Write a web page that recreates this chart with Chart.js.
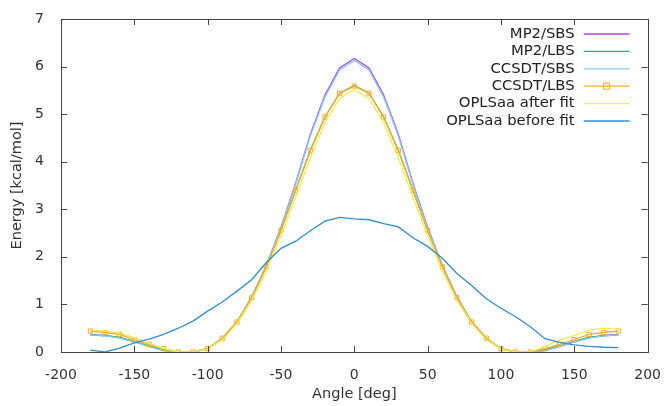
<!DOCTYPE html>
<html>
<head>
<meta charset="utf-8">
<script src="https://cdn.jsdelivr.net/npm/chart.js@4/dist/chart.umd.min.js"></script>
<style>html,body{margin:0;padding:0;background:#fff}</style>
</head>
<body>
<canvas id="c" width="668" height="406"></canvas>
<script>
const angles = [-180,-170,-160,-150,-140,-130,-120,-110,-100,-90,-80,-70,-60,-50,-40,-30,-20,-10,0,
  10,20,30,40,50,60,70,80,90,100,110,120,130,140,150,160,170,180];

const mp2Sbs = [0.37,0.35,0.30,0.22,0.12,0.03,0.00,0.00,0.07,0.28,0.63,1.15,1.82,2.62,3.55,4.58,5.40,5.97,6.17,
  5.97,5.40,4.58,3.55,2.62,1.82,1.15,0.63,0.28,0.07,0.00,0.00,0.03,0.12,0.22,0.30,0.35,0.37];
const mp2Lbs = [0.36,0.34,0.31,0.22,0.13,0.05,0.00,0.00,0.07,0.29,0.63,1.15,1.80,2.56,3.40,4.24,4.94,5.44,5.60,
  5.44,4.94,4.24,3.40,2.56,1.80,1.15,0.63,0.29,0.07,0.00,0.00,0.05,0.13,0.22,0.31,0.34,0.36];
const ccsdtSbs = [0.36,0.34,0.29,0.21,0.12,0.03,0.00,0.00,0.07,0.28,0.62,1.14,1.81,2.60,3.52,4.54,5.36,5.93,6.13,
  5.93,5.36,4.54,3.52,2.60,1.81,1.14,0.62,0.28,0.07,0.00,0.00,0.03,0.12,0.21,0.29,0.34,0.36];
const ccsdtLbs = [0.44,0.41,0.37,0.26,0.16,0.07,0.00,0.00,0.07,0.29,0.63,1.14,1.79,2.56,3.40,4.24,4.94,5.44,5.59,
  5.44,4.94,4.24,3.40,2.56,1.79,1.14,0.63,0.29,0.07,0.00,0.00,0.07,0.16,0.26,0.37,0.41,0.44];
const oplsAfter = [0.46,0.44,0.40,0.30,0.18,0.07,0.00,0.00,0.06,0.26,0.60,1.08,1.70,2.45,3.25,4.08,4.82,5.33,5.52,
  5.33,4.82,4.08,3.25,2.45,1.70,1.08,0.60,0.26,0.06,0.00,0.00,0.12,0.25,0.35,0.46,0.50,0.48];
const oplsBefore = [0.04,0.00,0.08,0.19,0.27,0.37,0.50,0.65,0.86,1.05,1.28,1.52,1.88,2.18,2.33,2.55,2.75,2.83,2.80,
  2.78,2.70,2.63,2.40,2.22,1.97,1.65,1.40,1.12,0.92,0.74,0.53,0.28,0.20,0.15,0.12,0.10,0.09];

const names = ['MP2/SBS','MP2/LBS','CCSDT/SBS','CCSDT/LBS','OPLSaa after fit','OPLSaa before fit'];
const colors = ['#a848e8','#2fae80','#86cdf2','#f0ae2c','#f4ec48','#2f8fd0'];
const series = [mp2Sbs, mp2Lbs, ccsdtSbs, ccsdtLbs, oplsAfter, oplsBefore];
const xTicks = [-200,-150,-100,-50,0,50,100,150,200];
const yTicks = [0,1,2,3,4,5,6,7];

const tickFont = {family: 'DejaVu Sans', size: 14};
const titleFont = {family: 'DejaVu Sans', size: 14.5};

// gnuplot style: box frame, inward ticks, legend inside top right
const frame = {
  id: 'frame',
  afterDatasetsDraw(chart) {
    const {ctx, chartArea: a, scales: {x, y}} = chart;
    ctx.save();
    ctx.strokeStyle = '#444';
    ctx.lineWidth = 1;
    ctx.strokeRect(Math.round(a.left) + 0.5, Math.round(a.top) + 0.5,
      Math.round(a.right - a.left), Math.round(a.bottom - a.top));
    ctx.beginPath();
    xTicks.forEach(v => {
      const px = Math.round(x.getPixelForValue(v)) + 0.5;
      ctx.moveTo(px, a.bottom); ctx.lineTo(px, a.bottom - 6);
      ctx.moveTo(px, a.top); ctx.lineTo(px, a.top + 6);
    });
    yTicks.forEach(v => {
      const py = Math.round(y.getPixelForValue(v)) + 0.5;
      ctx.moveTo(a.left, py); ctx.lineTo(a.left + 6, py);
      ctx.moveTo(a.right, py); ctx.lineTo(a.right - 6, py);
    });
    ctx.stroke();

    // legend
    ctx.font = '14.8px "DejaVu Sans"';
    ctx.textAlign = 'right';
    ctx.textBaseline = 'middle';
    const tx = a.right - 73, x0 = a.right - 64, x1 = a.right - 18;
    chart.data.datasets.forEach((ds, i) => {
      const ly = a.top + 15 + i * 17.4;
      ctx.fillStyle = '#222';
      ctx.fillText(ds.label, tx, ly);
      ctx.strokeStyle = ds.borderColor;
      ctx.lineWidth = 1.3;
      ctx.beginPath(); ctx.moveTo(x0, ly); ctx.lineTo(x1, ly); ctx.stroke();
      if (ds.pointRadius > 0) {
        const mx = (x0 + x1) / 2;
        ctx.lineWidth = 1;
        ctx.strokeRect(mx - 3, ly - 3, 6, 6);
      }
    });
    ctx.restore();
  }
};

new Chart(document.getElementById('c'), {
  type: 'line',
  data: {
    datasets: series.map((s, i) => ({
      label: names[i],
      data: angles.map((a, k) => ({x: a, y: s[k]})),
      borderColor: colors[i],
      backgroundColor: 'rgba(0,0,0,0)',
      borderWidth: 1.3,
      pointRadius: i === 3 ? 3 : 0,
      pointStyle: 'rect',
      pointBorderWidth: 1,
      pointBorderColor: colors[i],
      pointBackgroundColor: 'rgba(0,0,0,0)',
      tension: 0,
      order: 10 - i
    }))
  },
  options: {
    responsive: false,
    animation: false,
    layout: {padding: {top: 19, right: 17, left: 0, bottom: 0}},
    plugins: {legend: {display: false}, tooltip: {enabled: false}},
    scales: {
      x: {
        type: 'linear', min: -200, max: 200,
        afterFit: s => { s.height = 54; },
        afterBuildTicks: s => { s.ticks = xTicks.map(v => ({value: v})); },
        grid: {display: false},
        border: {display: false},
        ticks: {font: tickFont, color: '#333', padding: 7, maxRotation: 0},
        title: {display: true, text: 'Angle [deg]', font: titleFont, color: '#333', padding: {top: 0, bottom: 3}}
      },
      y: {
        min: 0, max: 7,
        afterFit: s => { s.width = 61; },
        afterBuildTicks: s => { s.ticks = yTicks.map(v => ({value: v})); },
        grid: {display: false},
        border: {display: false},
        ticks: {font: tickFont, color: '#333', padding: 9},
        title: {display: true, text: 'Energy [kcal/mol]', font: titleFont, color: '#333', padding: {top: 9, bottom: 0}}
      }
    }
  },
  plugins: [frame]
});
</script>
</body>
</html>
